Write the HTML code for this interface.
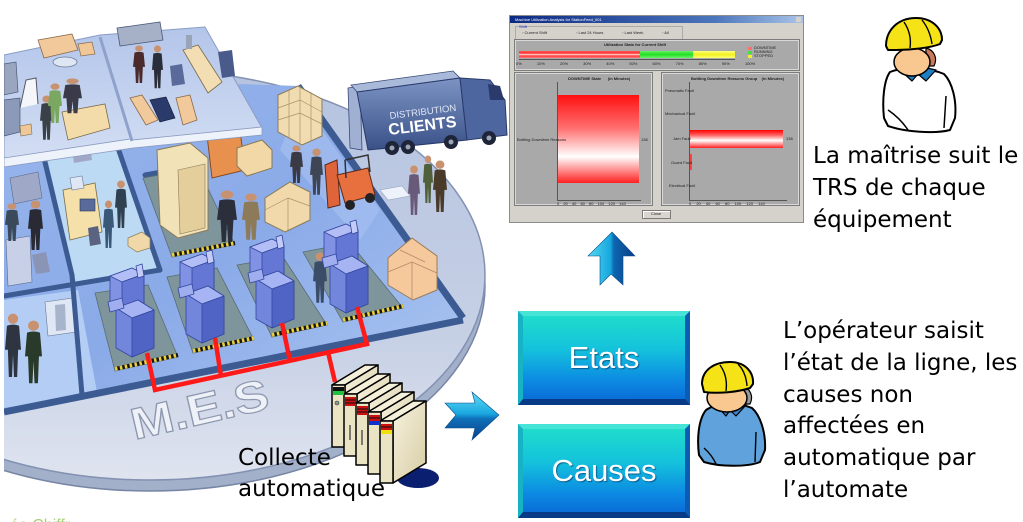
<!DOCTYPE html>
<html><head><meta charset="utf-8">
<style>
html,body{margin:0;padding:0;background:#fff;}
body{width:1023px;height:522px;position:relative;overflow:hidden;font-family:"DejaVu Sans","Liberation Sans",sans-serif;}
.abs{position:absolute;}
.txt{position:absolute;font-size:23px;line-height:32px;color:#000;white-space:nowrap;font-family:"DejaVu Sans","Liberation Sans",sans-serif;}
.btn{position:absolute;left:518px;width:172px;height:94px;box-sizing:border-box;border-top:5px solid #46e4d6;border-left:5px solid #17b2c4;border-right:5px solid #0b5cb4;border-bottom:6px solid #093a86;background:linear-gradient(180deg,#1fdccb 0%,#14c2dc 40%,#0c8ae2 78%,#0a6ed8 100%);color:#fff;font-family:"Liberation Sans",sans-serif;font-size:31px;line-height:83px;text-align:center;text-shadow:1px 1px 1px rgba(0,40,90,.6);}
.tiny{position:absolute;font-family:"Liberation Sans",sans-serif;font-size:4px;color:#222;white-space:nowrap;line-height:5px;}
.pan{position:absolute;background:#a9a9a9;border:1px solid #d8d8d8;outline:1px solid #7c7c7c;}
</style></head><body>

<svg class="abs" style="left:0;top:0" width="1023" height="522" viewBox="0 0 1023 522">
<defs>
 <linearGradient id="disc" x1="0" y1="0" x2="0" y2="1">
  <stop offset="0" stop-color="#b5c3e0"/><stop offset="0.65" stop-color="#c6d0e5"/><stop offset="1" stop-color="#dfe4ef"/>
 </linearGradient>
 <linearGradient id="floor" x1="0" y1="0" x2="1" y2="1">
  <stop offset="0" stop-color="#98b6ec"/><stop offset="0.5" stop-color="#8aaae8"/><stop offset="1" stop-color="#aec8f2"/>
 </linearGradient>
 <linearGradient id="slab" x1="0" y1="0" x2="0" y2="1"><stop offset="0" stop-color="#b3c5ea"/><stop offset="1" stop-color="#d3def3"/></linearGradient>
 <linearGradient id="truck" x1="0" y1="0" x2="0" y2="1"><stop offset="0" stop-color="#7c93c4"/><stop offset="1" stop-color="#3a5188"/></linearGradient>
 <linearGradient id="arrR" x1="0" y1="0" x2="0" y2="1"><stop offset="0" stop-color="#62dcf4"/><stop offset="0.45" stop-color="#1aa8e0"/><stop offset="0.56" stop-color="#0f6fb8"/><stop offset="1" stop-color="#0a3f8c"/></linearGradient>
 <linearGradient id="arrU" x1="0" y1="0" x2="1" y2="0"><stop offset="0" stop-color="#52dbf2"/><stop offset="0.48" stop-color="#17a6de"/><stop offset="0.55" stop-color="#0d66b0"/><stop offset="1" stop-color="#0a3c86"/></linearGradient>
 <linearGradient id="side" x1="0" y1="0" x2="1" y2="1"><stop offset="0" stop-color="#f7f2de"/><stop offset="1" stop-color="#d6cca4"/></linearGradient>
 <g id="mach" stroke="#34479e" stroke-width="0.8" stroke-linejoin="round">
  <polygon points="2,14 24,6 36,12 36,44 14,52 2,44" fill="#8192e4"/>
  <polygon points="2,14 24,6 36,12 14,20" fill="#b3bef7"/>
  <polygon points="14,20 36,12 36,44 14,52" fill="#6477d4"/>
  <polygon points="8,46 30,38 46,48 46,86 24,95 8,86" fill="#7286dc"/>
  <polygon points="8,46 30,38 46,48 24,56" fill="#a7b4f4"/>
  <polygon points="24,56 46,48 46,86 24,95" fill="#5064c6"/>
  <polygon points="0,40 14,36 16,46 2,50" fill="#a0aef0"/>
  <polygon points="28,4 34,2 36,14 30,16" fill="#c3ccf8"/>
 </g>
 <g id="p"><circle cx="5" cy="3.6" r="3.2" fill="#c89270"/><path d="M1.2 8 Q5 6.5 8.8 8 L10 23 L8.2 23 L7.6 40 L5.6 40 L5 26 L4.4 40 L2.4 40 L1.8 23 L0 23 Z"/></g>
</defs>

<!-- disc -->
<ellipse cx="150" cy="286" rx="335" ry="205" fill="#a3b0ca" stroke="#7886a6" stroke-width="1.5"/>
<ellipse cx="150" cy="275" rx="335" ry="205" fill="url(#disc)" stroke="#8391b2" stroke-width="1.5"/>

<!-- floor -->
<polygon points="4,150 240,84 300,86 463,318 4,413" fill="url(#floor)"/>
<polygon points="47,158 120,148 160,268 76,283" fill="#bcdaf4"/>
<polygon points="4,300 78,290 97,392 4,408" fill="#b4cdf4"/>
<polygon points="300,100 380,210 360,240 280,150" fill="#a8c2f0" opacity="0.6"/>
<!-- center room furniture -->
<polygon points="63,190 95,183 102,232 70,240" fill="#f4e0a8" stroke="#7a6a4a" stroke-width=".8"/>
<rect x="80" y="199" width="15" height="12" fill="#5a6a9a" stroke="#2a3a5a" stroke-width=".6"/>
<polygon points="88,228 98,226 101,244 90,246" fill="#5a6480"/>
<polygon points="70,178 82,176 84,188 72,190" fill="#dfe6f4" stroke="#6a7a9a" stroke-width=".6"/>
<polygon points="72,150 90,147 92,160 74,163" fill="#a0a8c8"/>
<!-- left room furniture -->
<polygon points="10,178 38,172 42,198 14,204" fill="#a0a8c8" stroke="#5a6a8a" stroke-width=".6"/>
<polygon points="6,240 30,236 32,282 8,286" fill="#c8d0e8" stroke="#5a6a8a" stroke-width=".6"/>
<polygon points="32,255 46,252 50,272 36,274" fill="#8a94b4"/>
<polygon points="45,302 73,298 76,332 48,336" fill="#dfe6f4" stroke="#6a7a9a" stroke-width=".6"/>
<polygon points="55,305 65,304 66,330 56,331" fill="#a8b4cc"/>
<g stroke="#3d5b93" stroke-width="5" stroke-linecap="round" fill="none">
 <path d="M4 296 L160 270"/>
 <path d="M44 158 L72 275 L82 395"/>
 <path d="M118 148 L160 270"/>
 <path d="M145 175 L200 165"/>
</g>
<path d="M4 412 L463 320" stroke="#3d5b93" stroke-width="7"/>
<path d="M298 86 L463 318" stroke="#3d5b93" stroke-width="7"/>

<!-- pads -->
<g fill="#7f959c" stroke="#5a6c74" stroke-width="0.8">
 <polygon points="143,178 198,168 235,245 172,257"/>
 <polygon points="95,293 148,285 178,357 115,371"/>
 <polygon points="167,277 217,268 254,340 193,353"/>
 <polygon points="237,265 283,257 327,325 272,337"/>
 <polygon points="303,252 350,243 403,308 343,322"/>
</g>
<g stroke-width="4">
 <path d="M172 255 L235 243 M115 369 L178 355 M193 351 L254 338 M272 335 L327 323 M343 320 L403 306" stroke="#151515"/>
 <path d="M172 255 L235 243 M115 369 L178 355 M193 351 L254 338 M272 335 L327 323 M343 320 L403 306" stroke="#e8d040" stroke-dasharray="2.5 2.5"/>
</g>

<!-- beige machine, orange shelf, boxes -->
<polygon points="157,150 190,143 208,158 208,230 178,238 160,225" fill="#f1e2b8" stroke="#8a7a58"/>
<polygon points="178,170 205,164 205,228 180,234" fill="#e4cf9c" stroke="#8a7a58" stroke-width=".6"/>
<polygon points="207,135 240,130 245,170 212,178" fill="#e8904e" stroke="#8a4a1e"/>
<polygon points="237,148 262,140 272,150 272,168 247,176 237,166" fill="#f2d8a6" stroke="#8a7a58"/>
<polygon points="278,95 298,86 322,99 322,136 302,145 278,132" fill="#f0dcb0" stroke="#8a7a58"/>
<path d="M278 108 L300 100 L322 112 M278 120 L300 113 L322 124 M300 86 L300 145 M289 90 L289 138 M311 92 L311 141" stroke="#a8946a" stroke-width=".7" fill="none"/>
<polygon points="265,198 290,182 310,192 310,220 285,232 265,222" fill="#f1d9ab" stroke="#8a7a58"/>
<path d="M265 210 L288 198 L310 206 M288 198 L288 230" stroke="#a8946a" stroke-width=".7" fill="none"/>
<polygon points="388,258 412,238 437,256 437,290 413,300 388,285" fill="#f5c99c" stroke="#9a7a58"/>
<path d="M388 272 L412 262 L437 273 M412 262 L412 300 M400 250 L425 262" stroke="#b08a68" stroke-width=".8" fill="none"/>
<polygon points="128,238 142,232 150,238 150,248 137,252 128,246" fill="#f0d8a8" stroke="#8a7a58" stroke-width=".7"/>
<!-- forklift -->
<polygon points="325,165 337,160 340,205 328,208" fill="#e0643a" stroke="#5a2a1a"/>
<polygon points="337,175 368,168 375,195 345,203" fill="#e8703e" stroke="#5a2a1a"/>
<path d="M345 160 L368 155 L370 172 M345 160 L346 178" stroke="#333" stroke-width="1.5" fill="none"/>
<circle cx="350" cy="205" r="5" fill="#222"/><circle cx="370" cy="198" r="5" fill="#222"/>

<!-- machines -->
<use href="#mach" transform="translate(108,262)"/>
<use href="#mach" transform="translate(178,248)"/>
<use href="#mach" transform="translate(248,233)"/>
<use href="#p" transform="translate(313,252) scale(1.4,1.27)" fill="#3b4c68"/>
<use href="#mach" transform="translate(322,218)"/>

<!-- people ground -->
<use href="#p" transform="translate(290,145) scale(1.3,0.95)" fill="#3a3a44"/>
<use href="#p" transform="translate(310,148) scale(1.3,1.17)" fill="#3e4656"/>
<use href="#p" transform="translate(217,190) scale(2,1.3)" fill="#2b2f3c"/>
<use href="#p" transform="translate(242,193) scale(1.8,1.17)" fill="#8c7a58"/>
<use href="#p" transform="translate(115,180) scale(1.2,1.2)" fill="#2f4050"/>
<use href="#p" transform="translate(103,200) scale(1.1,1.2)" fill="#3a5878"/>
<use href="#p" transform="translate(408,165) scale(1.2,1.25)" fill="#6a5a7a"/>
<use href="#p" transform="translate(423,155) scale(1.0,1.2)" fill="#50603a"/>
<use href="#p" transform="translate(433,160) scale(1.4,1.3)" fill="#4a3a2a"/>
<use href="#p" transform="translate(5,203) scale(1.4,0.95)" fill="#3a4a5a"/>
<use href="#p" transform="translate(28,200) scale(1.5,1.25)" fill="#2a2a34"/>
<use href="#p" transform="translate(5,313) scale(1.6,1.6)" fill="#2e3440"/>
<use href="#p" transform="translate(25,320) scale(1.7,1.58)" fill="#2a3a2a"/>

<!-- upper slab -->
<polygon points="4,55 100,35 205,27 262,128 133,140 4,160" fill="url(#slab)" stroke="#8a9cc4" stroke-width="1"/>
<polygon points="4,158 130,139 133,140 262,127 262,135 133,148 4,167" fill="#eef2fa" stroke="#8a9ac0" stroke-width=".8"/>
<path d="M100 37 L132 141" stroke="#8ea2cc" stroke-width="3"/>
<polygon points="38,40 72,34 78,50 44,58" fill="#f2c99a" stroke="#8a6a4a" stroke-width=".8"/>
<ellipse cx="65" cy="62" rx="12" ry="5" fill="#dde6f2" stroke="#6a7a9a" stroke-width=".8"/>
<polygon points="78,44 92,42 95,54 81,56" fill="#f0c898" stroke="#8a6a4a" stroke-width=".7"/>
<polygon points="117,28 160,22 163,40 120,46" fill="#a6b0c6" stroke="#4a5a7a" stroke-width=".8"/>
<polygon points="4,64 16,62 18,92 4,95" fill="#9aa6c0" stroke="#4a5a7a" stroke-width=".7"/>
<path d="M20 108 L26 80 L36 78 L38 104" stroke="#556" stroke-width="1" fill="#f4f6fa"/>
<polygon points="62,112 105,104 110,128 68,140" fill="#f4dcaa" stroke="#7a6a4a" stroke-width=".8"/>
<polygon points="4,100 20,98 20,132 4,136" fill="#8a9ab8" stroke="#4a5a7a" stroke-width=".7"/>
<polygon points="20,126 31,124 32,134 21,136" fill="#f0c898" stroke="#7a6a4a" stroke-width=".6"/>
<polygon points="130,98 142,95 158,120 146,125" fill="#f2c99a" stroke="#8a6a4a" stroke-width=".8"/>
<polygon points="150,100 166,97 175,118 160,122" fill="#2a3a6a" stroke="#1a2040" stroke-width=".7"/>
<polygon points="176,98 190,95 197,120 183,125" fill="#f2c99a" stroke="#8a6a4a" stroke-width=".8"/>
<polygon points="183,50 198,45 222,82 208,93" fill="#f2deb2" stroke="#7a6a4a" stroke-width=".8"/>
<polygon points="218,52 232,50 235,76 222,78" fill="#4a5a8a"/>
<polygon points="170,66 182,64 185,84 172,86" fill="#5a6a9a"/>
<rect x="186" y="35" width="6" height="14" fill="#9aa4b8"/>
<use href="#p" transform="translate(133,45) scale(1.2,0.95)" fill="#4a2a2a"/>
<use href="#p" transform="translate(152,45) scale(1.1,1.08)" fill="#2a2e3a"/>
<use href="#p" transform="translate(40,95) scale(1.3,1.12)" fill="#3a4048"/>
<use href="#p" transform="translate(48,83) scale(1.4,1)" fill="#7aa860"/>
<use href="#p" transform="translate(63,78) scale(1.9,0.88)" fill="#3a3a48"/>

<!-- truck -->
<polygon points="348,88 360,86 362,150 350,148" fill="#9fb0d2" stroke="#3a4a78" stroke-width=".8"/>
<polygon points="357,92 460,78 453,71 351,85" fill="#a9b9da" stroke="#3a4a78" stroke-width=".8"/>
<polygon points="357,92 460,78 467,140 368,150" fill="url(#truck)" stroke="#2a3a68" stroke-width="1"/>
<polygon points="460,78 490,80 505,100 507,135 467,140" fill="#4e66a0" stroke="#2a3a68" stroke-width="1"/>
<polygon points="488,84 500,86 504,100 490,100" fill="#2a3a6a"/>
<g fill="#1f2538"><circle cx="392" cy="148" r="7"/><circle cx="408" cy="147" r="7"/><circle cx="451" cy="142" r="7"/><circle cx="489" cy="138" r="7"/></g>
<g fill="#9aa6b8"><circle cx="392" cy="148" r="2.5"/><circle cx="408" cy="147" r="2.5"/><circle cx="451" cy="142" r="2.5"/><circle cx="489" cy="138" r="2.5"/></g>
<text x="390" y="119" font-family="Liberation Sans,sans-serif" font-size="9.5" fill="#dfe6f4" transform="rotate(-7 390 119)">DISTRIBUTION</text>
<text x="389" y="135" font-family="Liberation Sans,sans-serif" font-size="16" font-weight="bold" fill="#ffffff" transform="rotate(-7 389 135)">CLIENTS</text>
<polygon points="380,190 402,186 410,196 388,200" fill="#eef2fa" stroke="#9aa6c0" stroke-width=".6"/>

<!-- M.E.S -->
<text x="203" y="424" text-anchor="middle" font-family="Liberation Sans,sans-serif" font-weight="bold" font-size="44" fill="#eef1f7" stroke="#8d97ae" stroke-width="1.2" textLength="140" lengthAdjust="spacingAndGlyphs" transform="rotate(-13 203 424)">M.E.S</text>

<!-- red network -->
<g stroke="#ff1a1a" stroke-width="4.5" fill="none" stroke-linejoin="miter">
 <polyline points="147,353 155,390 367,344 357,307"/>
 <path d="M215 338 L221 376 M282 323 L290 361 M328 352 L335 382"/>
</g>

<!-- PLC -->
<ellipse cx="418" cy="478" rx="21" ry="10" fill="#0b1f70"/>
<g stroke="#000" stroke-width="1.5" stroke-linejoin="round">
 <polygon points="332,385 345,385 378,365 365,365" fill="#f5f0da"/>
 <polygon points="345,385 378,365 378,427 345,447" fill="url(#side)"/>
 <polygon points="332,385 345,385 345,447 332,447" fill="#ebe4c4"/>
 <polygon points="344,394 357,394 390,374 377,374" fill="#f5f0da"/>
 <polygon points="357,394 390,374 390,436 357,456" fill="url(#side)"/>
 <polygon points="344,394 357,394 357,456 344,456" fill="#ebe4c4"/>
 <polygon points="356,403 369,403 402,383 389,383" fill="#f5f0da"/>
 <polygon points="369,403 402,383 402,445 369,465" fill="url(#side)"/>
 <polygon points="356,403 369,403 369,465 356,465" fill="#ebe4c4"/>
 <polygon points="368,412 381,412 414,392 401,392" fill="#f5f0da"/>
 <polygon points="381,412 414,392 414,454 381,474" fill="url(#side)"/>
 <polygon points="368,412 381,412 381,474 368,474" fill="#ebe4c4"/>
 <polygon points="380,421 393,421 426,401 413,401" fill="#f5f0da"/>
 <polygon points="393,421 426,401 426,463 393,483" fill="url(#side)"/>
 <polygon points="380,421 393,421 393,483 380,483" fill="#ebe4c4"/>
</g>
<rect x="333" y="387" width="11" height="4" fill="#111"/><rect x="333" y="391" width="11" height="4" fill="#20c040"/>
<circle cx="337" cy="403" r="2" fill="#8a9a8a" stroke="#333" stroke-width=".6"/>
<rect x="345" y="397" width="11" height="9" fill="#cc1010"/><path d="M345 400 H356 M345 403 H356" stroke="#111"/>
<rect x="357" y="406" width="11" height="9" fill="#cc1010"/><path d="M357 409 H368 M357 412 H368" stroke="#111"/>
<rect x="369" y="415" width="11" height="6" fill="#cc1010"/><rect x="369" y="421" width="11" height="4" fill="#1030d0"/><path d="M369 418 H380" stroke="#111"/>
<rect x="381" y="424" width="11" height="6" fill="#cc1010"/><rect x="381" y="430" width="11" height="4" fill="#f0e010"/><path d="M381 427 H392" stroke="#111"/>
<path d="M350 425 L350 440 M362 430 L362 445" stroke="#333" stroke-width="1.2"/>

<!-- left white strip -->
<rect x="0" y="0" width="4" height="522" fill="#fff"/>
<text x="10" y="530" font-family="Liberation Sans,sans-serif" font-size="16" fill="#a6d27a">ée Chiffr</text>

<!-- arrows -->
<polygon points="445,403 475,403 472,392 499,415 472,440 475,428 445,428 456,415" fill="url(#arrR)" stroke="#0a4a8a" stroke-width=".6"/>
<polygon points="612,232 635,256 623,256 623,285 611,274 600,285 600,256 588,256" fill="url(#arrU)" stroke="#0a4a8a" stroke-width=".6"/>

<!-- supervisor -->
<g stroke="#000" stroke-width="2" stroke-linejoin="round">
 <path d="M890 72 C884 80 882 100 884 118 L888 126 C905 132 935 134 950 130 L955 118 C957 100 952 82 944 74 C930 68 905 66 890 72 Z" fill="#fff"/>
 <path d="M888 110 Q900 118 908 130 M946 96 L944 128" fill="none" stroke-width="1.5"/>
 <polygon points="900,70 912,81 918,74 926,81 936,70 918,66" fill="#1f7fc4" stroke-width="1.2"/>
 <path d="M926 48 C934 50 938 58 934 66 L926 66 Z" fill="#c87a5a" stroke-width="1.2"/>
 <ellipse cx="912" cy="62" rx="18" ry="14" fill="#f8c890" stroke-width="1.5"/>
 <path d="M886 46 C886 30 898 18 916 18 C932 18 942 28 942 40 L940 44 C930 48 910 50 896 50 L888 50 Z" fill="#f5e318"/>
 <path d="M904 22 Q912 34 910 48 M922 20 Q930 30 932 44" fill="none" stroke-width="1.4"/>
</g>
<!-- operator -->
<g stroke="#000" stroke-width="2" stroke-linejoin="round">
 <path d="M706 410 C698 420 697 440 699 455 L704 462 C720 467 748 467 760 462 L765 450 C766 432 760 415 752 408 C738 402 718 402 706 410 Z" fill="#5fa2dc"/>
 <path d="M704 448 Q712 455 716 464 M756 432 L755 462" fill="none" stroke-width="1.4"/>
 <polygon points="716,405 726,416 730,410 736,416 746,405 731,400" fill="#3b82c8" stroke-width="1.2"/>
 <path d="M742 386 C750 388 754 396 750 404 L742 404 Z" fill="#9a9a9a" stroke-width="1.2"/>
 <ellipse cx="727" cy="398" rx="20" ry="14" fill="#f8c890" stroke-width="1.5"/>
 <path d="M702 384 C702 370 714 362 730 362 C745 362 754 372 753 384 L750 388 C738 392 718 394 704 392 Z" fill="#f5e318"/>
 <path d="M720 365 Q728 376 726 391 M738 364 Q746 372 747 386" fill="none" stroke-width="1.4"/>
</g>
</svg>

<!-- screenshot window -->
<div class="abs" style="left:509px;top:15px;width:295px;height:208px;background:#d5d2cb;border:1px solid #8c8c8c;box-sizing:border-box;overflow:hidden;">
 <div class="abs" style="left:0;top:0;width:293px;height:7px;background:linear-gradient(90deg,#0c2a84,#4c76bc 70%,#a9c4e8);"></div>
 <div class="tiny" style="left:5px;top:1px;color:#fff;">Machine Utilization Analysis for StationFeed_001</div>
 <div class="abs" style="left:286px;top:1px;width:5px;height:5px;background:#d5d2cb;"></div>
 <div class="abs" style="left:5px;top:10px;width:166px;height:12px;border:1px solid #ababab;"></div>
 <div class="tiny" style="left:9px;top:8px;color:#2030c0;">Shift</div>
 <div class="tiny" style="left:12px;top:14px;">◦ Current Shift</div>
 <div class="tiny" style="left:66px;top:14px;">◦ Last 24 Hours</div>
 <div class="tiny" style="left:112px;top:14px;">◦ Last Week</div>
 <div class="tiny" style="left:152px;top:14px;">◦ All</div>

 <div class="pan" style="left:5px;top:24px;width:282px;height:28px;">
  <div class="tiny" style="left:88px;top:1px;font-weight:bold;">Utilization Stats for Current Shift</div>
  <div class="abs" style="left:3px;top:10px;width:121px;height:7px;background:linear-gradient(#ff5a5a,#ff2a2a 30%,#ffd8d8 50%,#ff3a3a 70%,#ff7a7a);"></div>
  <div class="abs" style="left:124px;top:10px;width:53px;height:7px;background:linear-gradient(#6af06a,#20e020 50%,#70f070);"></div>
  <div class="abs" style="left:177px;top:10px;width:42px;height:7px;background:linear-gradient(#ffff80,#f0f020 50%,#ffff70);"></div>
  <div class="abs" style="left:3px;top:18px;width:216px;height:1px;background:#555;"></div>
  <div class="tiny" style="left:0px;top:20px;word-spacing:14px;">0% 10% 20% 30% 40% 50% 60% 70% 80% 90% 100%</div>
  <div class="abs" style="left:232px;top:6px;width:4px;height:3px;background:#ff7070;"></div>
  <div class="abs" style="left:232px;top:10px;width:4px;height:3px;background:#40e040;"></div>
  <div class="abs" style="left:232px;top:14px;width:4px;height:3px;background:#f0f030;"></div>
  <div class="tiny" style="left:238px;top:5px;line-height:4px;">DOWNTIME<br>RUNNING<br>STOPPED</div>
 </div>

 <div class="pan" style="left:5px;top:57px;width:135px;height:130px;">
  <div class="tiny" style="left:52px;top:2px;font-weight:bold;">DOWNTIME State&nbsp;&nbsp;&nbsp;&nbsp;&nbsp;&nbsp;(in Minutes)</div>
  <div class="abs" style="left:41px;top:8px;width:1px;height:118px;background:#555;"></div>
  <div class="abs" style="left:41px;top:126px;width:84px;height:1px;background:#555;"></div>
  <div class="abs" style="left:42px;top:21px;width:81px;height:88px;background:linear-gradient(180deg,#ff1010 0%,#ff7070 38%,#ffffff 70%,#ff2020 100%);"></div>
  <div class="tiny" style="left:1px;top:63px;">Bottling Downtime Reasons</div>
  <div class="tiny" style="left:125px;top:63px;">138</div>
  <div class="tiny" style="left:41px;top:127px;word-spacing:3px;">0 20 40 60 80 100 120 140</div>
 </div>

 <div class="pan" style="left:152px;top:57px;width:135px;height:130px;">
  <div class="tiny" style="left:28px;top:2px;font-weight:bold;">Bottling Downtime Reasons Group&nbsp;&nbsp;&nbsp;&nbsp;(in Minutes)</div>
  <div class="abs" style="left:26px;top:8px;width:1px;height:118px;background:#555;"></div>
  <div class="abs" style="left:26px;top:126px;width:98px;height:1px;background:#555;"></div>
  <div class="abs" style="left:27px;top:56px;width:93px;height:18px;background:linear-gradient(180deg,#ff0000 0%,#ff6060 28%,#ffffff 58%,#ff2020 100%);"></div>
  <div class="abs" style="left:27px;top:80px;width:2px;height:16px;background:#ff4040;"></div>
  <div class="tiny" style="left:2px;top:14px;">Pneumatic Fault</div>
  <div class="tiny" style="left:2px;top:37px;">Mechanical Fault</div>
  <div class="tiny" style="left:10px;top:62px;">Jam Fault</div>
  <div class="tiny" style="left:8px;top:86px;">Guard Fault</div>
  <div class="tiny" style="left:6px;top:109px;">Electrical Fault</div>
  <div class="tiny" style="left:123px;top:62px;">138</div>
  <div class="tiny" style="left:26px;top:127px;word-spacing:4px;">0 20 40 60 80 100 120 140</div>
 </div>

 <div class="abs" style="left:132px;top:194px;width:27px;height:7px;background:#d9d6cf;border:1px solid #7a7a7a;box-shadow:inset 1px 1px 0 #fff;"></div>
 <div class="tiny" style="left:141px;top:195px;">Close</div>
</div>

<!-- buttons -->
<div class="btn" style="top:311px;">Etats</div>
<div class="btn" style="top:424px;">Causes</div>

<!-- texts -->
<div class="txt" style="left:813px;top:140px;">La maîtrise suit le<br>TRS de chaque<br>équipement</div>
<div class="txt" style="left:783px;top:316px;line-height:31.8px;">L’opérateur saisit<br>l’état de la ligne, les<br>causes non<br>affectées en<br>automatique par<br>l’automate</div>
<div class="txt" style="left:238px;top:443px;line-height:31px;">Collecte<br>automatique</div>

</body></html>
